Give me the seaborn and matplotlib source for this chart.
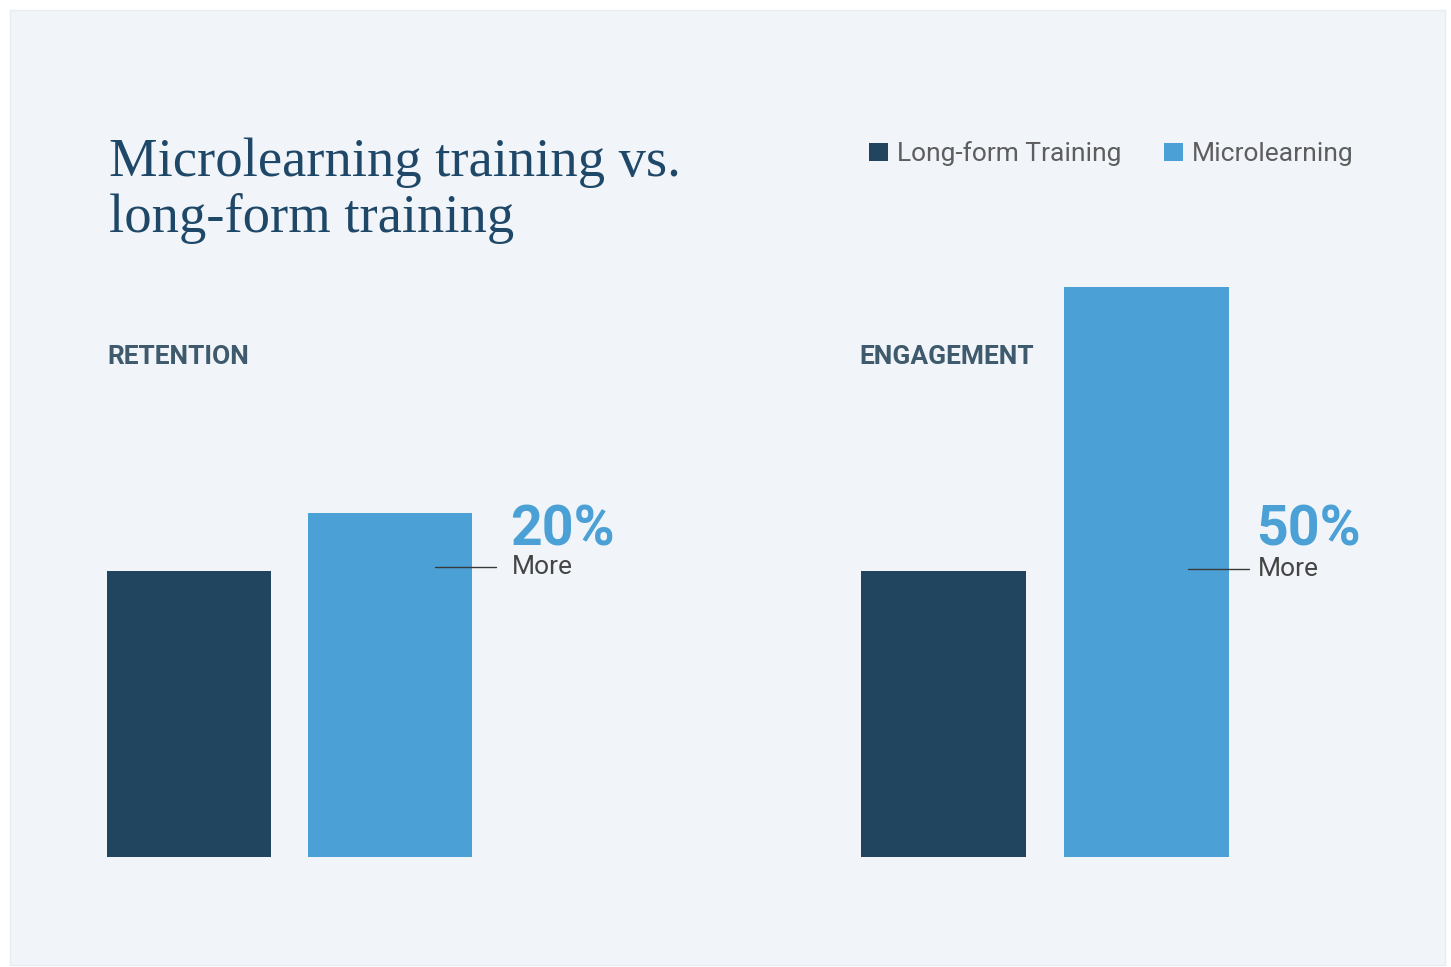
import matplotlib
matplotlib.use("Agg")
import matplotlib.pyplot as plt
from matplotlib.patches import Rectangle
from matplotlib.lines import Line2D
import seaborn as sns
import pandas as pd

# ---- data ----
series = ["Long-form Training", "Microlearning"]
retention_values = [100, 120]
engagement_values = [100, 199]
panel_titles = ["RETENTION", "ENGAGEMENT"]
callout_pct = ["20%", "50%"]
callout_word = "More"
title_lines = ["Microlearning training vs.", "long-form training"]

DARK = "#21445f"
LIGHT = "#4ba0d6"
CARD = "#f1f5f9"
TITLE_C = "#1f4868"
LABEL_C = "#3e5a6c"
TEXT_C = "#454545"

sns.set_theme(style="white")
plt.rcParams["font.family"] = ["Roboto", "DejaVu Sans"]

W, H = 1451, 967
fig = plt.figure(figsize=(W / 100, H / 100), dpi=100, facecolor="white")

def fx(px):
    return px / W

def fy(py):
    return 1 - py / H

# card background
fig.patches.append(Rectangle((fx(10), fy(965)), fx(1445) - fx(10), fy(10) - fy(965),
                             transform=fig.transFigure, facecolor=CARD, edgecolor="#e8ecf0",
                             linewidth=1.0, zorder=-10))

ymax = 199
axes_specs = [(107, 472), (861, 1229)]
values_all = [retention_values, engagement_values]
bar_w = 0.816
axes = []
for (x0, x1), vals in zip(axes_specs, values_all):
    ax = fig.add_axes([fx(x0), fy(857), fx(x1) - fx(x0), fy(287) - fy(857)], zorder=1)
    df = pd.DataFrame({"series": series, "value": vals})
    sns.barplot(data=df, x="series", y="value", hue="series", palette=[DARK, LIGHT],
                width=bar_w, saturation=1, legend=False, linewidth=0, ax=ax)
    ax.set_xlim(-bar_w / 2, 1 + bar_w / 2)
    ax.set_ylim(0, ymax)
    ax.set_facecolor("none")
    ax.patch.set_alpha(0)
    for s in ax.spines.values():
        s.set_visible(False)
    ax.set_xticks([])
    ax.set_yticks([])
    ax.set_xlabel("")
    ax.set_ylabel("")
    axes.append(ax)

# title
serif = ["Liberation Serif", "DejaVu Serif"]
fig.text(fx(109), fy(176), title_lines[0], fontsize=39.3, family=serif, color=TITLE_C,
         va="baseline", zorder=5)
fig.text(fx(109), fy(232), title_lines[1], fontsize=39.3, family=serif, color=TITLE_C,
         va="baseline", zorder=5)

# panel labels
fig.text(fx(107), fy(357), panel_titles[0], fontsize=19, fontweight="bold",
         color=LABEL_C, va="center", zorder=5)
fig.text(fx(859), fy(357), panel_titles[1], fontsize=19, fontweight="bold",
         color=LABEL_C, va="center", zorder=5)

# legend
leg_items = [(869, series[0], DARK), (1164, series[1], LIGHT)]
for x, lab, col in leg_items:
    fig.patches.append(Rectangle((fx(x), fy(161)), fx(19), fy(143) - fy(161),
                                 transform=fig.transFigure, facecolor=col, edgecolor="none",
                                 zorder=5))
    fig.text(fx(x + 28), fy(154), lab, fontsize=19, color="#5e5e5e", va="center", zorder=5)

# callouts
callouts = [(512, 545, 567, 435, 496, callout_pct[0]),
            (1258, 545, 569, 1188, 1249, callout_pct[1])]
for tx, pct_base, ly, lx0, lx1, pct in callouts:
    fig.text(fx(tx - 2), fy(pct_base), pct, fontsize=40, fontweight="bold", color=LIGHT,
             va="baseline", zorder=5)
    fig.text(fx(tx), fy(ly), callout_word, fontsize=19, color=TEXT_C, va="center", zorder=5)
    fig.lines.append(Line2D([fx(lx0), fx(lx1)], [fy(ly), fy(ly)], transform=fig.transFigure,
                            color="#3a3a3a", linewidth=1.0, zorder=6))

fig.savefig("out.png", dpi=100, facecolor="white")
